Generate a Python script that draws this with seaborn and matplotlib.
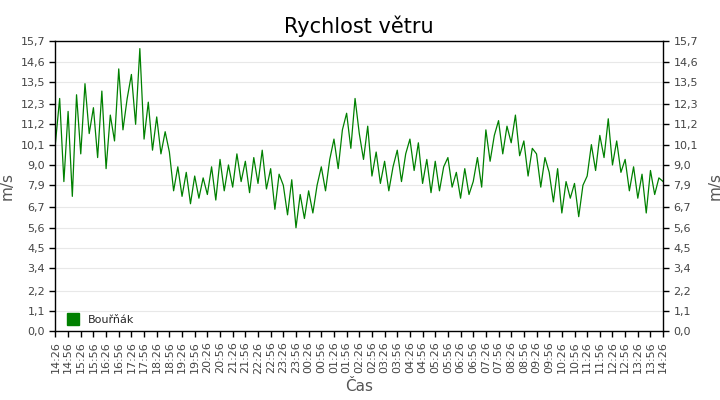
import matplotlib
matplotlib.use("Agg")
import numpy as np
import pandas as pd
import seaborn as sns
from matplotlib import pyplot as plt
from matplotlib.lines import Line2D

# wind speed samples, every 10 minutes from 14:26, one row = 1.5 h
wind_speed = [
    10.2, 12.6, 8.1, 11.9, 7.3, 12.8, 9.6, 13.4, 10.7,
    12.1, 9.4, 13.0, 8.8, 11.7, 10.3, 14.2, 10.9, 12.6,
    13.9, 11.2, 15.3, 10.4, 12.4, 9.8, 11.6, 9.6, 10.8,
    9.7, 7.6, 8.9, 7.3, 8.6, 6.9, 8.4, 7.2, 8.3,
    7.4, 8.9, 7.1, 9.3, 7.6, 9.0, 7.8, 9.6, 8.1,
    9.2, 7.5, 9.4, 8.0, 9.8, 7.7, 8.8, 6.6, 8.5,
    7.9, 6.3, 8.2, 5.6, 7.4, 6.1, 7.6, 6.4, 7.9,
    8.9, 7.6, 9.3, 10.4, 8.8, 10.9, 11.8, 9.9, 12.6,
    10.7, 9.3, 11.1, 8.4, 9.7, 8.0, 9.2, 7.6, 8.9,
    9.8, 8.1, 9.6, 10.4, 8.7, 10.2, 8.0, 9.3, 7.5,
    9.2, 7.6, 8.9, 9.4, 7.8, 8.6, 7.2, 8.8, 7.4,
    8.1, 9.4, 7.8, 10.9, 9.2, 10.6, 11.4, 9.6, 11.1,
    10.2, 11.7, 9.5, 10.3, 8.4, 9.9, 9.6, 7.8, 9.4,
    8.6, 7.0, 8.8, 6.4, 8.1, 7.2, 8.0, 6.2, 7.9,
    8.4, 10.1, 8.7, 10.6, 9.4, 11.5, 9.0, 10.3, 8.6,
    9.3, 7.6, 8.9, 7.2, 8.5, 6.4, 8.7, 7.4, 8.3,
    8.1,
]
minutes = np.arange(len(wind_speed)) * 10
tick_labels = [f"{(14 * 60 + 26 + m) // 60 % 24:02d}:{(26 + m) % 60:02d}" for m in range(0, 24 * 60 + 1, 30)]
y_ticks = [0.0, 1.1, 2.2, 3.4, 4.5, 5.6, 6.7, 7.9, 9.0, 10.1, 11.2, 12.3, 13.5, 14.6, 15.7]

df = pd.DataFrame({"minute": minutes, "speed": wind_speed})

sns.set_theme(style="white")
plt.rcParams["font.family"] = ["DejaVu Sans"]

fig, ax = plt.subplots(figsize=(7.2, 4.0), dpi=100)
fig.subplots_adjust(left=0.077, right=0.921, top=0.897, bottom=0.172)
sns.lineplot(data=df, x="minute", y="speed", color="#008000", linewidth=0.9, ax=ax)

ax.set_xlim(0, 24 * 60)
ax.set_ylim(0, 15.7)
ax.set_xticks(range(0, 24 * 60 + 1, 30))
ax.set_xticklabels(tick_labels, rotation=90, fontsize=8, color="#444444")
ax.set_yticks(y_ticks)
ax.set_yticklabels([f"{v:.1f}".replace(".", ",") for v in y_ticks], fontsize=8, color="#444444")
ax.grid(axis="y", color="#e8e8e8", linewidth=0.8)
ax.tick_params(axis="both", direction="out", length=4, width=1, colors="black", labelcolor="#444444",
               bottom=True, left=True, right=True, labelright=True)
for s in ax.spines.values():
    s.set_color("black")
    s.set_linewidth(1)
ax.set_xlabel("Čas", fontsize=11, color="#555555")
ax.set_ylabel("m/s", fontsize=11, color="#555555")
ax.text(1.085, 0.5, "m/s", transform=ax.transAxes, rotation=90, va="center", ha="center",
        fontsize=11, color="#555555")
ax.set_title("Rychlost větru", fontsize=15, color="black")

handle = Line2D([], [], marker="s", color="#008000", linestyle="none", markersize=9)
ax.legend([handle], ["Bouřňák"], loc="lower left", frameon=False, fontsize=8, handletextpad=0.3,
          borderaxespad=0.2)

plt.savefig("out.png", dpi=100)
